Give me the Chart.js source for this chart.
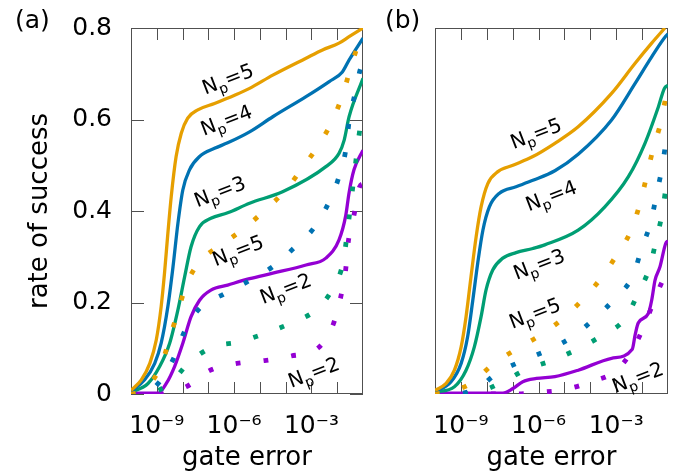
<!DOCTYPE html>
<html><head><meta charset="utf-8">
<script src="https://cdn.jsdelivr.net/npm/chart.js@4/dist/chart.umd.min.js"></script>
<style>
html,body{margin:0;padding:0;background:#fff;}
#wrap{position:relative;width:676px;height:474px;overflow:hidden;}
canvas{position:absolute;top:0;}
#ca{left:0;} #cb{left:370px;}
</style></head>
<body><div id="wrap"><canvas id="ca" width="370" height="474"></canvas><canvas id="cb" width="306" height="474"></canvas></div>
<script>
// ---- axis data ----
const xMinExp = -10, xMaxExp = -1;
const xTickExps = [-9, -8, -7, -6, -5, -4, -3, -2];
const xLabelExps = [-9, -6, -3];
const xLabelText = ['10\u207B\u2079', '10\u207B\u2076', '10\u207B\u00B3'];
const yTickVals = [0, 0.2, 0.4, 0.6, 0.8];
const yTickText = ['0', '0.2', '0.4', '0.6', '0.8'];
const seriesNames = ['Np=5', 'Np=4', 'Np=3', 'Np=2'];
const colors = ['#E69F00', '#0072B2', '#009E73', '#9400D3'];

// ---- panel (a): log10(gate error) and rate of success ----
const aSolid5X = [-10, -9.6, -9.27, -9.02, -8.83, -8.7, -8.57, -8.44, -8.25, -8.05, -7.8, -7.41, -6.76, -5.98, -5.4, -4.5, -3.21, -2.57, -1.93, -1.54, -1.0];
const aSolid5Y = [0.008, 0.031, 0.067, 0.118, 0.191, 0.264, 0.351, 0.431, 0.519, 0.57, 0.603, 0.621, 0.635, 0.653, 0.668, 0.697, 0.734, 0.752, 0.767, 0.781, 0.80];
const aSolid4X = [-10, -9.47, -9.08, -8.83, -8.57, -8.37, -8.18, -7.99, -7.73, -7.34, -6.76, -6.25, -5.4, -4.5, -3.21, -2.31, -1.8, -1.54, -1.0];
const aSolid4Y = [0.006, 0.031, 0.067, 0.111, 0.191, 0.278, 0.373, 0.446, 0.49, 0.519, 0.537, 0.549, 0.573, 0.606, 0.65, 0.683, 0.704, 0.73, 0.778];
const aSolid3X = [-10, -9.34, -8.89, -8.5, -8.18, -7.92, -7.67, -7.34, -6.9, -6.25, -5.4, -4.12, -2.44, -1.93, -1.73, -1.54, -1.0];
const aSolid3Y = [0.004, 0.023, 0.06, 0.111, 0.184, 0.256, 0.322, 0.366, 0.384, 0.396, 0.417, 0.442, 0.497, 0.526, 0.555, 0.606, 0.69];
const aSolid2X = [-10, -8.95, -8.63, -8.31, -7.99, -7.67, -7.34, -6.9, -6.25, -5.4, -4.5, -3.21, -2.44, -1.93, -1.67, -1.54, -1.35, -1.0];
const aSolid2Y = [0.002, 0.002, 0.023, 0.06, 0.111, 0.169, 0.205, 0.227, 0.238, 0.252, 0.264, 0.282, 0.297, 0.337, 0.39, 0.44, 0.49, 0.533];
const aDot5X = [-10, -9.7, -9.43, -8.83, -8.5, -8.18, -7.86, -7.34, -6.44, -5.57, -4.76, -3.98, -3.32, -2.7, -2.16, -1.76, -1.45, -1.09, -1.0];
const aDot5Y = [0.0, 0.003, 0.012, 0.063, 0.122, 0.18, 0.238, 0.289, 0.328, 0.364, 0.404, 0.447, 0.497, 0.546, 0.601, 0.659, 0.719, 0.775, 0.78];
const aDot4X = [-10, -9.4, -8.89, -8.31, -7.9, -7.34, -6.38, -5.4, -4.46, -3.66, -2.89, -2.34, -1.93, -1.67, -1.54, -1.32, -1.05, -1.0];
const aDot4Y = [0, 0.003, 0.027, 0.082, 0.14, 0.187, 0.219, 0.248, 0.28, 0.32, 0.364, 0.417, 0.475, 0.533, 0.595, 0.654, 0.718, 0.72];
const aDot3X = [-10, -9.52, -8.5, -7.76, -6.87, -5.79, -4.78, -3.75, -2.8, -2.15, -1.76, -1.61, -1.48, -1.35, -1.22, -1.07, -1.0];
const aDot3Y = [0, 0.0, 0.023, 0.068, 0.102, 0.114, 0.133, 0.156, 0.185, 0.233, 0.291, 0.353, 0.413, 0.475, 0.535, 0.595, 0.6];
const aDot2X = [-10, -8.89, -7.82, -6.96, -5.89, -4.82, -3.79, -2.73, -2.15, -1.86, -1.67, -1.57, -1.35, -1.13, -1.0];
const aDot2Y = [0, 0.0, 0.017, 0.051, 0.067, 0.073, 0.083, 0.101, 0.153, 0.213, 0.273, 0.333, 0.391, 0.453, 0.46];

// ---- panel (b) ----
const bSolid5X = [-10, -9.57, -9.25, -8.99, -8.8, -8.61, -8.41, -8.22, -7.96, -7.57, -6.99, -6.22, -5.37, -4.47, -3.18, -2.27, -1.63, -1.12];
const bSolid5Y = [0.008, 0.023, 0.052, 0.103, 0.169, 0.256, 0.344, 0.409, 0.46, 0.486, 0.5, 0.519, 0.548, 0.584, 0.657, 0.723, 0.767, 0.80];
const bSolid4X = [-10, -9.38, -8.99, -8.74, -8.54, -8.35, -8.15, -7.9, -7.51, -6.87, -6.22, -5.37, -4.47, -3.18, -2.27, -1.63, -1.09, -1.0];
const bSolid4Y = [0.005, 0.027, 0.067, 0.125, 0.205, 0.286, 0.358, 0.409, 0.439, 0.453, 0.467, 0.488, 0.524, 0.599, 0.679, 0.737, 0.782, 0.787];
const bSolid3X = [-10, -9.25, -8.8, -8.48, -8.22, -8.03, -7.77, -7.38, -6.87, -6.22, -5.76, -4.47, -3.44, -2.53, -1.89, -1.37, -1.14, -1.0];
const bSolid3Y = [0.004, 0.016, 0.052, 0.103, 0.169, 0.227, 0.271, 0.297, 0.309, 0.318, 0.326, 0.358, 0.409, 0.475, 0.548, 0.628, 0.668, 0.675];
const bSolid2X = [-10, -7.38, -6.99, -6.61, -6.08, -5.37, -4.47, -3.18, -2.38, -2.27, -2.15, -1.76, -1.63, -1.5, -1.31, -1.09, -1.0];
const bSolid2Y = [0.002, 0.002, 0.012, 0.027, 0.034, 0.038, 0.052, 0.078, 0.098, 0.129, 0.155, 0.176, 0.205, 0.249, 0.278, 0.329, 0.335];
const bDot5X = [-10, -9.6, -8.61, -7.8, -6.89, -5.95, -5.06, -4.29, -3.56, -2.98, -2.43, -2.08, -1.82, -1.57, -1.27, -1.05, -1.0];
const bDot5Y = [0, 0.003, 0.023, 0.063, 0.097, 0.128, 0.165, 0.207, 0.255, 0.304, 0.357, 0.417, 0.477, 0.537, 0.595, 0.656, 0.66];
const bDot4X = [-10, -9.3, -8.41, -7.56, -6.56, -5.56, -4.62, -3.78, -3.01, -2.34, -2.02, -1.66, -1.44, -1.22, -1.05, -1.0];
const bDot4Y = [0, 0.0, 0.011, 0.047, 0.074, 0.098, 0.128, 0.168, 0.211, 0.26, 0.318, 0.377, 0.437, 0.497, 0.557, 0.56];
const bDot3X = [-10, -9.0, -8.27, -7.43, -6.46, -5.44, -4.43, -3.52, -2.62, -2.15, -1.72, -1.46, -1.22, -1.05, -1.0];
const bDot3Y = [0, 0, 0.005, 0.025, 0.054, 0.074, 0.1, 0.129, 0.167, 0.221, 0.275, 0.335, 0.396, 0.457, 0.46];
const bDot2X = [-10, -7.0, -6.1, -4.98, -3.95, -2.98, -2.38, -1.89, -1.53, -1.09, -1.0];
const bDot2Y = [0, 0, 0.003, 0.01, 0.027, 0.052, 0.096, 0.153, 0.205, 0.26, 0.265];

// ---- curve labels (anchored in data units: log10 x, y) ----
const labelsA = [
  {n: '5', e: -6.22, y: 0.685}, {n: '4', e: -6.28, y: 0.595}, {n: '3', e: -6.53, y: 0.439},
  {n: '5', e: -5.83, y: 0.31}, {n: '2', e: -3.98, y: 0.227}, {n: '2', e: -2.89, y: 0.044}
];
const labelsB = [
  {n: '5', e: -6.08, y: 0.566}, {n: '4', e: -5.49, y: 0.43}, {n: '3', e: -5.96, y: 0.28},
  {n: '5', e: -6.12, y: 0.173}, {n: '2', e: -2.15, y: 0.033}
];

const FONT = 'DejaVu Sans';
const pts = (xs, ys) => xs.map((e, i) => ({x: Math.pow(10, e), y: ys[i]}));

function makeSets(solids, dots) {
  const sets = [];
  solids.forEach((s, i) => sets.push({
    label: seriesNames[i], data: pts(s[0], s[1]), borderColor: colors[i], borderWidth: 3.3,
    pointRadius: 0, cubicInterpolationMode: 'monotone', fill: false, order: 10 + i
  }));
  dots.forEach((s, i) => sets.push({
    label: seriesNames[i] + ' (dotted)', data: pts(s[0], s[1]), borderColor: colors[i], borderWidth: 4.8,
    borderDash: [4.8, 23.2], borderCapStyle: 'butt', pointRadius: 0,
    cubicInterpolationMode: 'monotone', fill: false, order: i
  }));
  return sets;
}

const framePlugin = {
  id: 'frame',
  beforeDatasetsDraw(chart, args, o) {
    const {ctx, chartArea: a, scales: {x, y}} = chart;
    ctx.save();
    ctx.strokeStyle = '#505050';
    ctx.lineWidth = 1;
    ctx.beginPath();
    for (const e of xTickExps) {
      const px = Math.round(x.getPixelForValue(Math.pow(10, e))) + 0.5;
      ctx.moveTo(px, a.top); ctx.lineTo(px, a.top + 12);
      ctx.moveTo(px, a.bottom); ctx.lineTo(px, a.bottom - 12);
    }
    if (o.yTicks) {
      for (const v of yTickVals) {
        const py = Math.round(y.getPixelForValue(v)) + 0.5;
        ctx.moveTo(a.left, py); ctx.lineTo(a.left + 13, py);
        ctx.moveTo(a.right, py); ctx.lineTo(a.right - 13, py);
      }
    }
    ctx.stroke();
    ctx.strokeRect(Math.round(a.left) + 0.5, Math.round(a.top) + 0.5,
      Math.round(a.right - a.left) - 1, Math.round(a.bottom - a.top) - 1);
    ctx.restore();
  },
  afterDraw(chart, args, o) {
    const {ctx, scales: {x, y}} = chart;
    ctx.save();
    ctx.fillStyle = '#000';
    ctx.font = '25px "' + FONT + '"';
    ctx.textBaseline = 'alphabetic';
    ctx.textAlign = 'left';
    ctx.fillText(o.tag, 15, 28);
    for (const l of o.labels) {
      const px = x.getPixelForValue(Math.pow(10, l.e));
      const py = y.getPixelForValue(l.y);
      ctx.save();
      ctx.translate(px, py);
      ctx.rotate(-21 * Math.PI / 180);
      const big = '20px "' + FONT + '"', small = '14px "' + FONT + '"';
      ctx.font = big; const wN = ctx.measureText('N').width;
      ctx.font = small; const wP = ctx.measureText('p').width;
      ctx.font = big; const wR = ctx.measureText('=' + l.n).width;
      let cx = -(wN + wP + wR) / 2;
      ctx.textBaseline = 'alphabetic';
      ctx.font = big; ctx.fillText('N', cx, 5); cx += wN;
      ctx.font = small; ctx.fillText('p', cx, 10); cx += wP;
      ctx.font = big; ctx.fillText('=' + l.n, cx, 5);
      ctx.restore();
    }
    ctx.restore();
  }
};

function makeChart(id, solids, dots, panel) {
  const isA = panel === 'a';
  return new Chart(document.getElementById(id), {
    type: 'line',
    data: {datasets: makeSets(solids, dots)},
    options: {
      responsive: false, animation: false, devicePixelRatio: 1,
      layout: {padding: {top: 28, right: isA ? 7 : 8, left: 0, bottom: 0}},
      plugins: {legend: {display: false}, tooltip: {enabled: false},
        frame: {yTicks: isA, tag: isA ? '(a)' : '(b)', labels: isA ? labelsA : labelsB}},
      scales: {
        x: {
          type: 'logarithmic', min: Math.pow(10, xMinExp), max: Math.pow(10, xMaxExp),
          grid: {display: false, drawTicks: false}, border: {display: false},
          afterBuildTicks: s => { s.ticks = xLabelExps.map(e => ({value: Math.pow(10, e)})); },
          afterFit: s => { s.height = 80; s.paddingLeft = 0; s.paddingRight = 0; },
          ticks: {autoSkip: false, maxRotation: 0, color: '#000', padding: 17,
            font: {family: FONT, size: 25},
            callback: v => { const i = xLabelExps.indexOf(Math.round(Math.log10(v))); return i >= 0 ? xLabelText[i] : ''; }},
          title: {display: true, text: 'gate error', color: '#000', font: {family: FONT, size: 26},
            padding: {top: 0, bottom: 0}}
        },
        y: {
          type: 'linear', min: 0, max: 0.8,
          grid: {display: false, drawTicks: false}, border: {display: false},
          afterBuildTicks: s => { s.ticks = yTickVals.map(v => ({value: v})); },
          afterFit: s => { s.width = isA ? 131 : 65; s.paddingTop = 0; s.paddingBottom = 0; },
          ticks: {display: isA, color: '#000', padding: 19, font: {family: FONT, size: 25},
            callback: v => { const i = yTickVals.findIndex(t => Math.abs(t - v) < 1e-9); return i >= 0 ? yTickText[i] : ''; }},
          title: {display: isA, text: 'rate of success', color: '#000', font: {family: FONT, size: 26},
            padding: {top: 25, bottom: 0}}
        }
      }
    },
    plugins: [framePlugin]
  });
}

makeChart('ca',
  [[aSolid5X, aSolid5Y], [aSolid4X, aSolid4Y], [aSolid3X, aSolid3Y], [aSolid2X, aSolid2Y]],
  [[aDot5X, aDot5Y], [aDot4X, aDot4Y], [aDot3X, aDot3Y], [aDot2X, aDot2Y]], 'a');
makeChart('cb',
  [[bSolid5X, bSolid5Y], [bSolid4X, bSolid4Y], [bSolid3X, bSolid3Y], [bSolid2X, bSolid2Y]],
  [[bDot5X, bDot5Y], [bDot4X, bDot4Y], [bDot3X, bDot3Y], [bDot2X, bDot2Y]], 'b');
</script>
</body></html>
